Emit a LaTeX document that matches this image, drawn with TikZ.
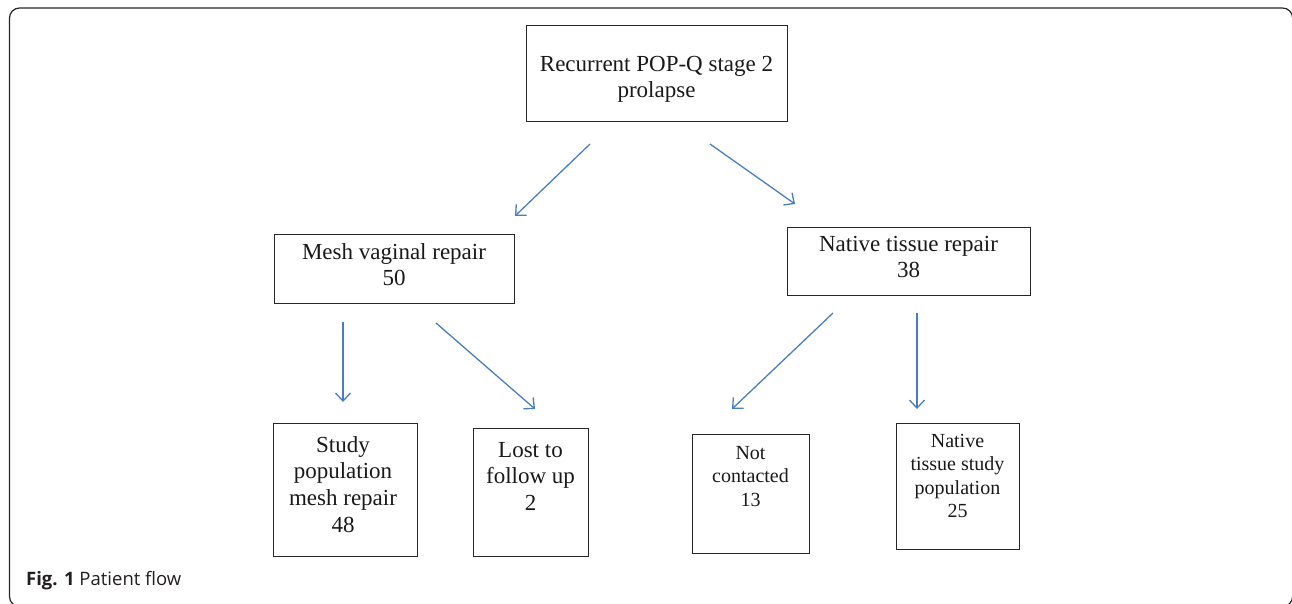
\documentclass[tikz,border=0pt]{standalone}
\usepackage{fontspec}
\setmainfont{Liberation Serif}
\newfontfamily\capfont{Open Sans}
\usetikzlibrary{arrows.meta}
\definecolor{arrowblue}{RGB}{74,126,187}
\definecolor{captext}{RGB}{35,31,32}
\newcommand\tb[1]{\begin{tabular}[t]{@{}c@{}}#1\end{tabular}}
\newcommand\bigf{\fontsize{23}{26.8}\selectfont}
\newcommand\smallf{\fontsize{20}{23.6}\selectfont}
\tikzset{
  box/.style={draw=black!85, line width=1pt, inner sep=0pt, outer sep=0pt},
  txt/.style={anchor=base, inner sep=0pt, text=black!90},
  flow/.style={draw=arrowblue, line width=1.3pt, -{Straight Barb[length=8pt,width=15pt,line width=1.3pt]}},
}
\begin{document}
\begin{tikzpicture}[x=1pt,y=-1pt]
\useasboundingbox (0,0) rectangle (1292,603);
\clip (0,0) rectangle (1292,603);
% frame
\draw[line width=1.2pt, black!85, rounded corners=10pt] (9.5,8) rectangle (1292.6,606.5);

% boxes
\node[box, minimum width=261pt, minimum height=96pt] (top) at (656.5,73) {};
\node[box, minimum width=240pt, minimum height=69pt] (mesh) at (394,268.5) {};
\node[box, minimum width=243pt, minimum height=68pt] (native) at (908.5,261) {};
\node[box, minimum width=144pt, minimum height=133pt] (study) at (345,489.5) {};
\node[box, minimum width=115pt, minimum height=128pt] (lost) at (530.5,492) {};
\node[box, minimum width=117pt, minimum height=119pt] (notc) at (750.5,493.5) {};
\node[box, minimum width=123pt, minimum height=126pt] (natstudy) at (957.5,486) {};

% texts
\node[txt] (toptxt) at (656.5,71) {\bigf\tb{Recurrent POP-Q stage 2\\prolapse}};
\node[txt] (meshtxt) at (394,259) {\bigf\tb{Mesh vaginal repair\\50}};
\node[txt] (nativetxt) at (908.5,251) {\bigf\tb{Native tissue repair\\38}};
\node[txt] (studytxt) at (343,452) {\bigf\tb{Study\\population\\mesh repair\\48}};
\node[txt] (losttxt) at (530.5,457) {\bigf\tb{Lost to\\follow up\\2}};
\node[txt] (notctxt) at (750.5,459) {\smallf\tb{Not\\contacted\\13}};
\node[txt] (natstudytxt) at (957.5,447) {\smallf\tb{Native\\tissue study\\population\\25}};

% arrow end points
\coordinate (a1s) at (590,144); \coordinate (a1e) at (515,216);
\coordinate (a2s) at (710,144); \coordinate (a2e) at (795,204);
\coordinate (a3s) at (343,322); \coordinate (a3e) at (343,402);
\coordinate (a4s) at (436,323); \coordinate (a4e) at (535,409);
\coordinate (a5s) at (833,313); \coordinate (a5e) at (732,409);
\coordinate (a6s) at (917,313); \coordinate (a6e) at (917,409);
\draw[flow] (a1s) -- (a1e);
\draw[flow] (a2s) -- (a2e);
\draw[flow] (a3s) -- (a3e);
\draw[flow] (a4s) -- (a4e);
\draw[flow] (a5s) -- (a5e);
\draw[flow] (a6s) -- (a6e);

% caption
\node[anchor=base west, inner sep=0pt, text=captext] (cap) at (26,585) {\capfont\fontsize{18.5}{22}\selectfont\textbf{Fig. 1} Patient flow};
\end{tikzpicture}
\end{document}
